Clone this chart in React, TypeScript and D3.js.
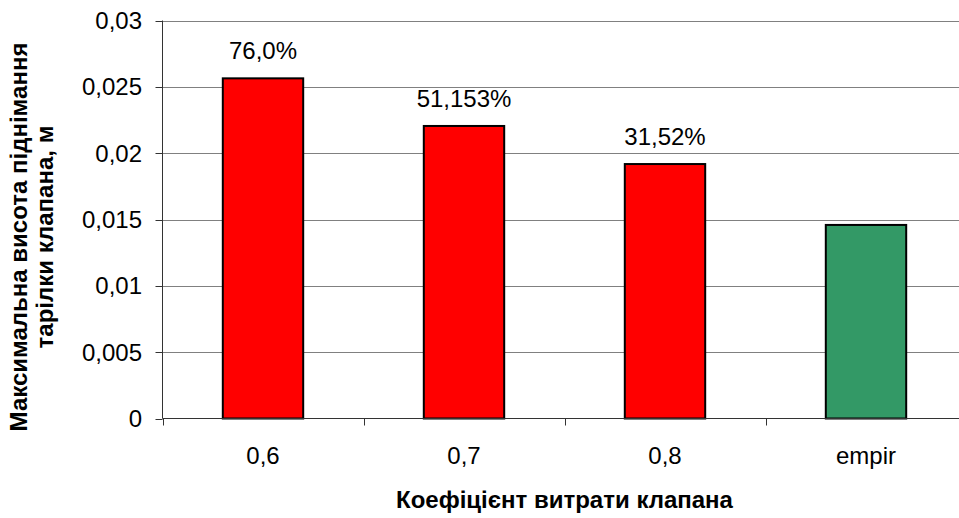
import {useRef, useEffect} from "react";
import * as d3 from "d3";

// data
const categories = ["0,6", "0,7", "0,8", "empir"];
const heights = [0.02564, 0.02205, 0.01918, 0.01459];
const barLabels = ["76,0%", "51,153%", "31,52%", ""];
const barColors = ["#ff0000", "#ff0000", "#ff0000", "#339966"];
const yTicks = [0, 0.005, 0.01, 0.015, 0.02, 0.025, 0.03];
const yTitle = ["Максимальна висота піднімання", "тарілки клапана, м"];
const xTitle = "Коефіцієнт витрати клапана";

const W = 959;
const H = 518;

export default function App() {
  const refEl = useRef<SVGSVGElement | null>(null);

  useEffect(() => {
    if (!refEl.current) return;
    const svg = d3.select(refEl.current);
    svg.selectAll("*").remove();

    const font = "'Liberation Sans', Arial, sans-serif";
    const left = 162.5, right = 966.5, top = 20.5, bottom = 418.5;

    const x = d3.scaleBand<string>().domain(categories).range([left, right])
      .paddingInner(0.6).paddingOuter(0.3);
    const y = d3.scaleLinear().domain([0, 0.03]).range([bottom, top]);
    const step = x.step();

    const locale = d3.formatLocale({decimal: ",", thousands: " ", grouping: [3], currency: ["", ""]});
    const fmt = locale.format(".3~f");

    // grid
    svg.append("g").selectAll("line").data(yTicks.filter(t => t > 0)).join("line")
      .attr("x1", left).attr("x2", right)
      .attr("y1", d => Math.round(y(d)) + 0.5).attr("y2", d => Math.round(y(d)) + 0.5)
      .attr("stroke", "#808080").attr("stroke-width", 1);

    // bars
    svg.append("g").selectAll("rect").data(heights).join("rect")
      .attr("x", (d, i) => x(categories[i])!)
      .attr("width", x.bandwidth())
      .attr("y", d => y(d))
      .attr("height", d => y(0) - y(d))
      .attr("fill", (d, i) => barColors[i])
      .attr("stroke", "#000").attr("stroke-width", 2);

    // value labels
    svg.append("g").selectAll("text").data(heights).join("text")
      .attr("x", (d, i) => x(categories[i])! + x.bandwidth() / 2)
      .attr("y", d => y(d) - 19)
      .attr("text-anchor", "middle")
      .attr("font-family", font).attr("font-size", 24).attr("fill", "#000")
      .text((d, i) => barLabels[i]);

    // y axis
    const ya = svg.append("g").attr("stroke", "#333");
    ya.append("line").attr("x1", left).attr("x2", left).attr("y1", top).attr("y2", bottom);
    ya.selectAll("line.tick").data(yTicks).join("line").attr("class", "tick")
      .attr("x1", left - 7).attr("x2", left)
      .attr("y1", d => Math.round(y(d)) + 0.5).attr("y2", d => Math.round(y(d)) + 0.5);
    svg.append("g").selectAll("text").data(yTicks).join("text")
      .attr("x", 142).attr("y", d => y(d)).attr("dy", "0.36em")
      .attr("text-anchor", "end")
      .attr("font-family", font).attr("font-size", 24).attr("fill", "#000")
      .text(d => fmt(d));

    // x axis
    const xa = svg.append("g").attr("stroke", "#333");
    xa.append("line").attr("x1", left).attr("x2", right).attr("y1", bottom).attr("y2", bottom);
    xa.selectAll("line.tick").data(d3.range(categories.length + 1)).join("line").attr("class", "tick")
      .attr("x1", i => Math.round(left + i * step) + 0.5).attr("x2", i => Math.round(left + i * step) + 0.5)
      .attr("y1", bottom).attr("y2", bottom + 7);
    svg.append("g").selectAll("text").data(categories).join("text")
      .attr("x", d => x(d)! + x.bandwidth() / 2).attr("y", 464)
      .attr("text-anchor", "middle")
      .attr("font-family", font).attr("font-size", 24).attr("fill", "#000")
      .text(d => d);

    // titles
    svg.append("text")
      .attr("x", (left + right) / 2).attr("y", 508)
      .attr("text-anchor", "middle")
      .attr("font-family", font).attr("font-size", 24).attr("font-weight", "bold")
      .text(xTitle);

    const yt = svg.append("text")
      .attr("transform", "translate(27,237) rotate(-90)")
      .attr("text-anchor", "middle")
      .attr("font-family", font).attr("font-size", 24).attr("font-weight", "bold");
    yTitle.forEach((line, i) => {
      yt.append("tspan").attr("x", 0).attr("y", i * 26).text(line);
    });
  }, []);

  return (
    <svg ref={refEl} width={W} height={H}
      style={{position: "absolute", left: 0, top: 0, background: "#fff"}} />
  );
}
